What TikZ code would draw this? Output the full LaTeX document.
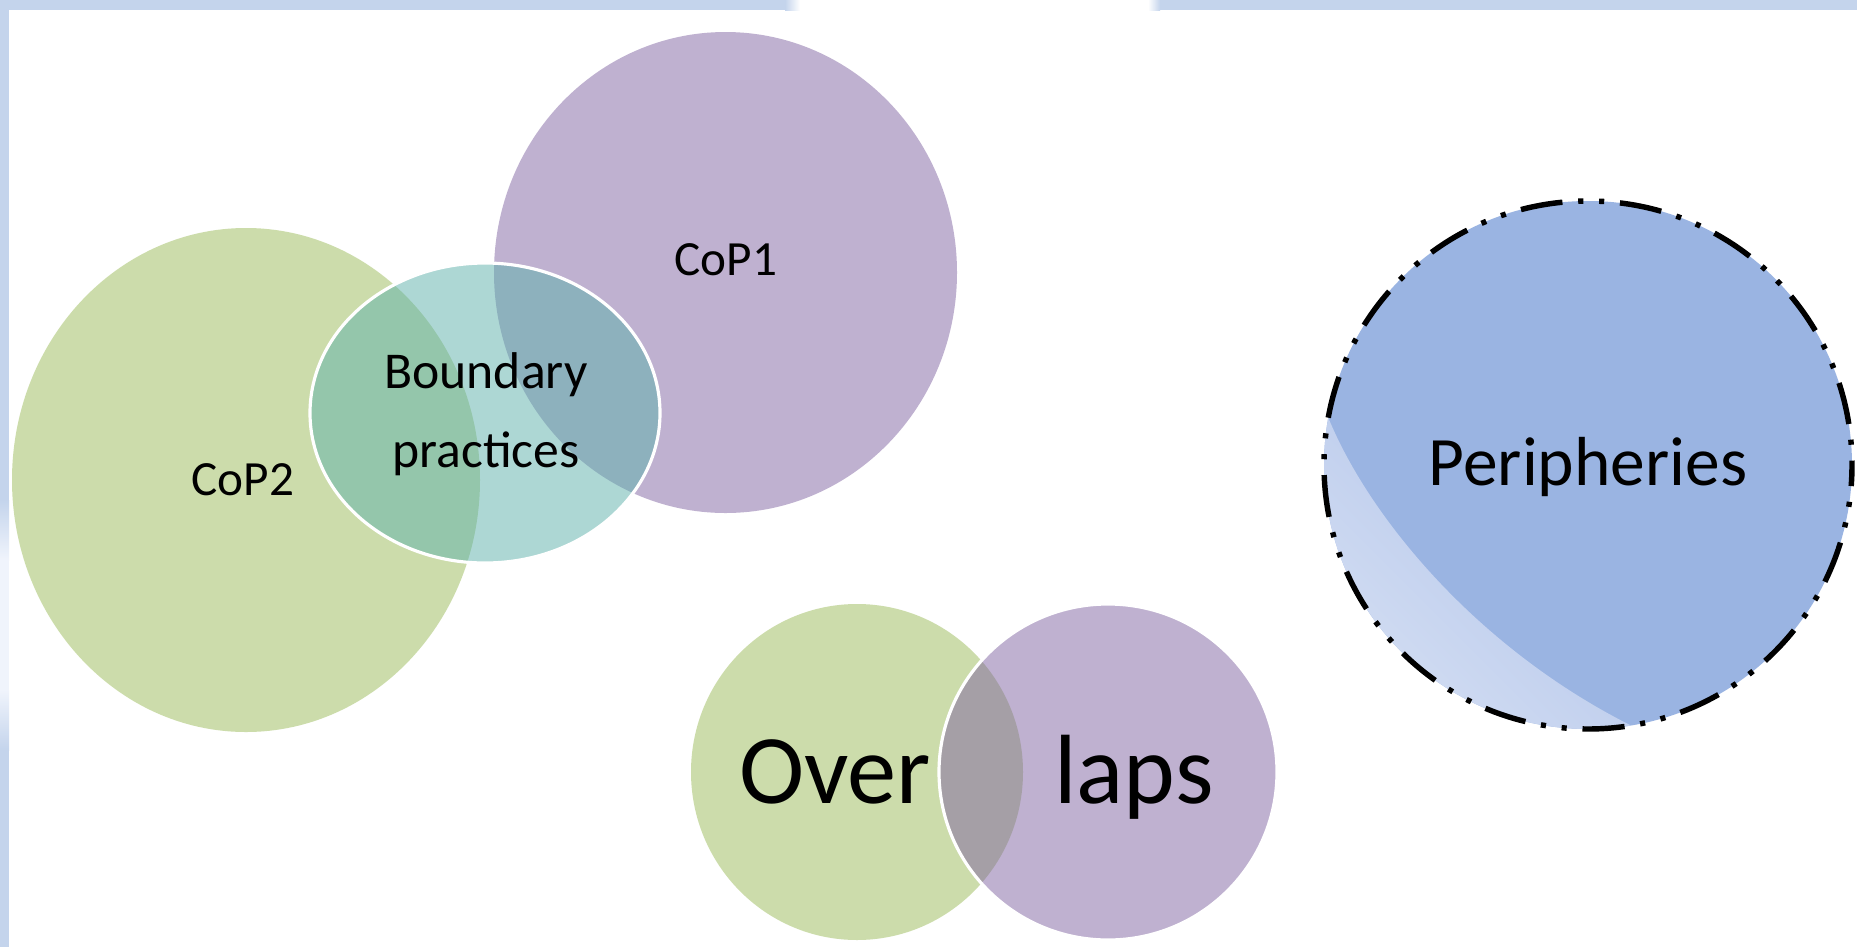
\documentclass[tikz,border=0pt]{standalone}
\usepackage{fontspec}
\setmainfont{Carlito}
\definecolor{gOlive}{RGB}{155,187,89}
\definecolor{gPurple}{RGB}{128,100,162}
\definecolor{gTeal}{RGB}{93,177,171}
\definecolor{pBlue}{RGB}{154,180,226}
\definecolor{pLight}{RGB}{214,224,244}
\definecolor{pMid}{RGB}{178,196,233}
\definecolor{strip}{RGB}{196,212,236}
\definecolor{stripL}{RGB}{240,244,252}
\begin{document}
\begin{tikzpicture}[x=0.02cm,y=-0.02cm,
  venn/.style={fill opacity=0.5},
  rim/.style={draw=white, line width=1.8pt},
  lbl/.style={anchor=base, inner sep=0pt, text=black},
  small/.style={font=\fontsize{28}{34}\selectfont},
  mid/.style={font=\fontsize{29.4}{35}\selectfont},
  large/.style={font=\fontsize{39.5}{46}\selectfont},
  huge/.style={font=\fontsize{56}{64}\selectfont},
  dashdotdot/.style={draw=black, line width=3.1pt,
    dash pattern=on 24pt off 9pt on 2.9pt off 9pt on 2.9pt off 9pt,
    dash phase=12pt}]
\useasboundingbox (0,0) rectangle (1857,947);
\fill[white] (0,0) rectangle (1857,947);
% frame strips
\fill[strip] (0,0) rectangle (785,10);
\shade[left color=strip, right color=white] (785,0) rectangle (800,10);
\shade[left color=white, right color=strip] (1148,0) rectangle (1160,10);
\fill[strip] (1160,0) rectangle (1857,10);
\fill[strip] (0,0) rectangle (9,500);
\shade[top color=strip, bottom color=stripL] (0,500) rectangle (9,560);
\fill[stripL] (0,560) rectangle (9,690);
\shade[top color=stripL, bottom color=strip] (0,690) rectangle (9,750);
\fill[strip] (0,750) rectangle (9,947);
% big Venn
\fill[gOlive, venn] (246,480) ellipse [x radius=234, y radius=252];
\fill[gPurple, venn] (725.5,272.5) ellipse [x radius=231.5, y radius=240.5];
\filldraw[fill=gTeal, venn, rim] (485,413) ellipse [x radius=175, y radius=150];
% small Venn
\fill[gOlive, venn] (857,772) ellipse [x radius=166, y radius=168];
\filldraw[fill=gPurple, venn, rim] (1108,772) ellipse [x radius=169, y radius=168];
% peripheries
\fill[pBlue] (1588,465) circle [radius=264];
\begin{scope}
  \clip (1588,465) circle [radius=264];
  \shade[left color=pLight, right color=pMid, shading angle=135]
    (1328,417) .. controls (1370,520) and (1480,650) .. (1632,726)
    -- (1640,760) -- (1300,760) -- (1300,417) -- cycle;
\end{scope}
\draw[dashdotdot] (1588,465) circle [radius=264];
% labels
\node[lbl, small] (cop1) at (726,275) {CoP1};
\node[lbl, small] (cop2) at (243,495) {CoP2};
\node[lbl, mid] (bp1) at (486,388) {Boundary};
\node[lbl, mid] (bp2) at (486,467) {practices};
\node[lbl, huge] (over) at (835,803) {Over};
\node[lbl, huge] (laps) at (1134,803) {laps};
\node[lbl, large] (peri) at (1588,485) {Peripheries};
\end{tikzpicture}
\end{document}
